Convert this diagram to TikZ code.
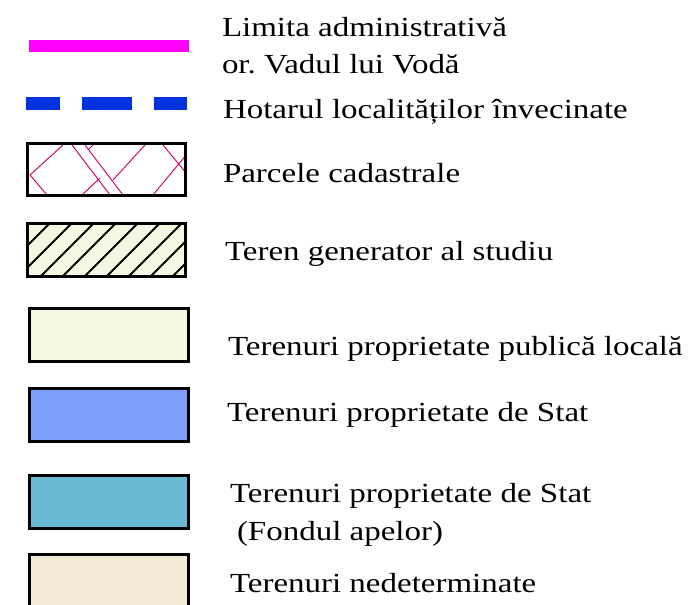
\documentclass[tikz,border=0pt]{standalone}
\usepackage{fontspec}
\setmainfont{Liberation Serif}
\frenchspacing
\definecolor{magline}{RGB}{255,0,255}
\definecolor{blueline}{RGB}{0,51,221}
\definecolor{parcelred}{RGB}{200,16,106}
\definecolor{paleyellow}{RGB}{245,247,225}
\definecolor{statblue}{RGB}{127,159,255}
\definecolor{waterblue}{RGB}{106,186,214}
\definecolor{beige}{RGB}{242,234,212}
\tikzset{
  legtext/.style={anchor=base west, inner sep=0pt, outer sep=0pt, font=\fontsize{27.6}{37}\selectfont},
  legbox/.style={draw=black, line width=3pt, rectangle, inner sep=0pt, outer sep=0pt},
  parcelline/.style={draw=parcelred, line width=1pt},
  hatchline/.style={draw=black, line width=1.8pt},
}
\newcommand{\sx}[1]{\scalebox{1.195}[1]{#1}}
\begin{document}
\begin{tikzpicture}[x=1pt,y=-1pt]
\useasboundingbox (0,0) rectangle (694,605);
\clip (0,0) rectangle (694,605);

% lines
\coordinate (m1) at (29,45.5);
\coordinate (m2) at (189,45.5);
\draw[magline, line width=12pt] (m1) -- (m2);
\coordinate (b1) at (26,103.5);
\coordinate (b2) at (187,103.5);
\draw[blueline, line width=13pt, dash pattern=on 34pt off 22pt on 50pt off 22pt on 34pt] (b1) -- (b2);

% parcels
\begin{scope}
\clip (27.5,143.5) rectangle (185.5,195.5);
\draw[parcelline] (63,145) -- (30,175) -- (47,195);
\draw[parcelline] (72,145) -- (110,195);
\draw[parcelline] (85,145) -- (123,195);
\draw[parcelline] (93,145) -- (88,150);
\draw[parcelline] (82,195) -- (100,178);
\draw[parcelline] (113,180) -- (145,145);
\draw[parcelline] (163,145) -- (187,174);
\draw[parcelline] (153,195) -- (187,154);
\end{scope}
\node[legbox, minimum width=158pt, minimum height=52pt] (parc) at (106.5,169.5) {};

% study area
\node[legbox, draw=none, fill=paleyellow, minimum width=158pt, minimum height=53pt] (genfill) at (106.5,250) {};
\begin{scope}
\clip (27.5,223.5) rectangle (185.5,276.5);
\foreach \k in {-3,...,8}{
  \draw[hatchline] (48+22*\k+40,185) -- ++(-120,120);
}
\end{scope}
\node[legbox, minimum width=158pt, minimum height=53pt] (gen) at (106.5,250) {};

% filled boxes
\node[legbox, fill=paleyellow, minimum width=159pt, minimum height=53pt] (pub) at (109,335) {};
\node[legbox, fill=statblue, minimum width=159pt, minimum height=53pt] (stat) at (109,414.7) {};
\node[legbox, fill=waterblue, minimum width=159pt, minimum height=53pt] (apa) at (109,502) {};
\node[legbox, fill=beige, minimum width=159pt, minimum height=53pt] (ned) at (109,581.3) {};

% texts
\node[legtext] (t1) at (222,36.7) {\sx{Limita administrativă}};
\node[legtext] (t1b) at (222,73) {\sx{or. Vadul lui Vodă}};
\node[legtext] (t2) at (223,118) {\sx{Hotarul localităților învecinate}};
\node[legtext] (t3) at (223,182) {\sx{Parcele cadastrale}};
\node[legtext] (t4) at (225,260) {\sx{Teren generator al studiu}};
\node[legtext] (t5) at (228,355) {\sx{Terenuri proprietate publică locală}};
\node[legtext] (t6) at (227,421) {\sx{Terenuri proprietate de Stat}};
\node[legtext] (t7) at (230,502) {\sx{Terenuri proprietate de Stat}};
\node[legtext] (t7b) at (237,540) {\sx{(Fondul apelor)}};
\node[legtext] (t8) at (230,592) {\sx{Terenuri nedeterminate}};
\end{tikzpicture}
\end{document}
